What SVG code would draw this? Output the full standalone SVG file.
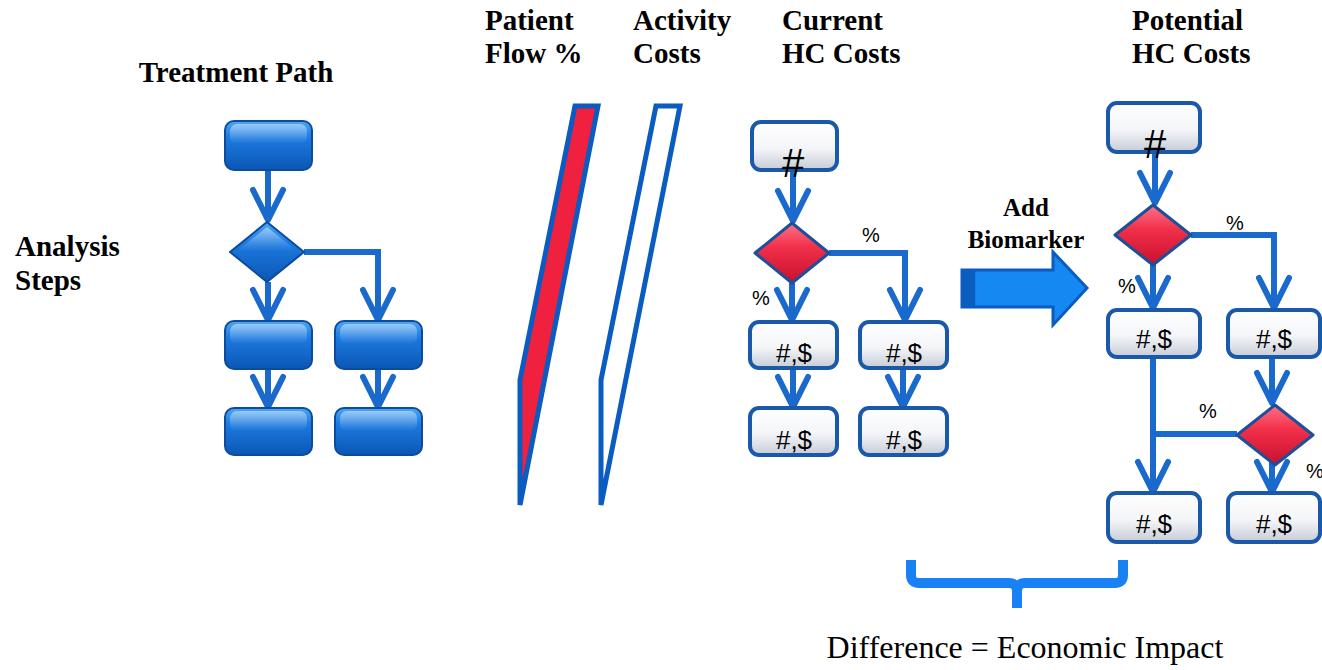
<svg xmlns="http://www.w3.org/2000/svg" width="1322" height="670" viewBox="0 0 1322 670">
  <defs>
    <style>
      .hdr { font-family: "Liberation Serif", "Times New Roman", "DejaVu Serif", serif; font-weight: bold; font-size: 29px; fill: #000; }
      .lbl { font-family: "Liberation Serif", "Times New Roman", "DejaVu Serif", serif; font-weight: bold; font-size: 25px; fill: #000; }
      .note { font-family: "Liberation Serif", "Times New Roman", "DejaVu Serif", serif; font-size: 32px; fill: #000; }
      .val { font-family: "Liberation Sans", Arial, sans-serif; font-size: 26px; fill: #000; text-anchor: middle; }
      .big { font-family: "Liberation Sans", Arial, sans-serif; font-size: 40px; fill: #000; text-anchor: middle; }
      .pct { font-family: "Liberation Sans", Arial, sans-serif; font-size: 20px; fill: #000; }
      .bbox { fill: url(#blueFill); stroke: #0b4c9c; stroke-width: 2; }
      .bshine { fill: url(#shine); }
      .wbox { fill: url(#whiteFill); stroke: #1a58aa; stroke-width: 4; }
      .bdia { fill: url(#blueFill); stroke: #0b4c9c; stroke-width: 2; stroke-linejoin: round; }
      .rdia { fill: url(#redFill); stroke: #1d4f9a; stroke-width: 3; stroke-linejoin: round; }
      .conn { fill: none; stroke: #1a69cc; stroke-width: 6; marker-end: url(#chev); }
      .line { fill: none; stroke: #1a69cc; stroke-width: 6; }
      .bar { stroke: #0a5cc0; stroke-width: 5; stroke-linejoin: miter; }
    </style>
    <linearGradient id="blueFill" x1="0" y1="0" x2="0" y2="1">
      <stop offset="0" stop-color="#4ea6f3"/>
      <stop offset="0.35" stop-color="#1c7ae0"/>
      <stop offset="1" stop-color="#0b56b4"/>
    </linearGradient>
    <linearGradient id="shine" x1="0" y1="0" x2="0" y2="1">
      <stop offset="0" stop-color="#ffffff" stop-opacity="0.45"/>
      <stop offset="1" stop-color="#ffffff" stop-opacity="0"/>
    </linearGradient>
    <linearGradient id="whiteFill" x1="0" y1="0" x2="0" y2="1">
      <stop offset="0" stop-color="#ffffff"/>
      <stop offset="0.55" stop-color="#f4f5f8"/>
      <stop offset="1" stop-color="#c6ccd6"/>
    </linearGradient>
    <linearGradient id="redFill" x1="0" y1="0" x2="0" y2="1">
      <stop offset="0" stop-color="#ff7288"/>
      <stop offset="0.4" stop-color="#f2304a"/>
      <stop offset="1" stop-color="#c8102e"/>
    </linearGradient>
    <linearGradient id="bigArrow" x1="0" y1="0" x2="1" y2="0">
      <stop offset="0" stop-color="#0b5ec0"/>
      <stop offset="0.1" stop-color="#0b5ec0"/>
      <stop offset="0.11" stop-color="#1688f2"/>
      <stop offset="1" stop-color="#1688f2"/>
    </linearGradient>
    <!-- open chevron head for flow connectors -->
    <marker id="chev" markerUnits="userSpaceOnUse" viewBox="-36 -20 40 40" refX="0" refY="0" markerWidth="40" markerHeight="40" orient="auto">
      <path d="M-30,-15 L0,0 L-30,15" fill="none" stroke="#1a69cc" stroke-width="6" stroke-linecap="round" stroke-linejoin="round"/>
    </marker>
  </defs>

  <rect width="1322" height="670" fill="#ffffff"/>

  <!-- headings -->
  <g id="headings">
    <text class="hdr" x="236" y="82" text-anchor="middle">Treatment Path</text>
    <text class="hdr" x="15" y="256">Analysis</text>
    <text class="hdr" x="15" y="290">Steps</text>
    <text class="hdr" x="485" y="30">Patient</text>
    <text class="hdr" x="485" y="63">Flow %</text>
    <text class="hdr" x="633" y="30">Activity</text>
    <text class="hdr" x="633" y="63">Costs</text>
    <text class="hdr" x="782" y="30">Current</text>
    <text class="hdr" x="782" y="63">HC Costs</text>
    <text class="hdr" x="1132" y="30">Potential</text>
    <text class="hdr" x="1132" y="63">HC Costs</text>
  </g>

  <!-- connectors -->
  <g id="connectors">
    <!-- treatment path -->
    <path class="conn" d="M268,170 V220"/>
    <path class="conn" d="M268,282 V320"/>
    <path class="conn" d="M304,252 H378 V320"/>
    <path class="conn" d="M268,369 V407"/>
    <path class="conn" d="M378,369 V407"/>
    <!-- current costs -->
    <path class="conn" d="M793,170 V221"/>
    <path class="conn" d="M792,283 V320"/>
    <path class="conn" d="M829,253 H905 V320"/>
    <path class="conn" d="M793,368 V407"/>
    <path class="conn" d="M903,368 V407"/>
    <!-- potential costs -->
    <path class="conn" d="M1155,152 V203"/>
    <path class="conn" d="M1153,265 V308"/>
    <path class="conn" d="M1191,235 H1274 V308"/>
    <path class="conn" d="M1272,357 V403"/>
    <path class="line" d="M1237,434 H1150"/>
    <path class="conn" d="M1153,357 V492"/>
    <path class="conn" d="M1272,462 V492"/>
  </g>

  <!-- treatment path nodes -->
  <g id="tp-start">
    <rect class="bbox" x="225" y="121" width="87" height="49" rx="9"/>
    <rect class="bshine" x="230" y="124" width="77" height="20" rx="7"/>
  </g>
  <g id="tp-decision">
    <polygon class="bdia" points="267,222 304,252 267,282 230,252"/>
    <polygon class="bshine" points="267,227 297,251 237,251"/>
  </g>
  <g id="tp-step-a1">
    <rect class="bbox" x="225" y="321" width="87" height="48" rx="9"/>
    <rect class="bshine" x="230" y="324" width="77" height="20" rx="7"/>
  </g>
  <g id="tp-step-b1">
    <rect class="bbox" x="335" y="321" width="87" height="48" rx="9"/>
    <rect class="bshine" x="340" y="324" width="77" height="20" rx="7"/>
  </g>
  <g id="tp-step-a2">
    <rect class="bbox" x="225" y="408" width="87" height="47" rx="9"/>
    <rect class="bshine" x="230" y="411" width="77" height="20" rx="7"/>
  </g>
  <g id="tp-step-b2">
    <rect class="bbox" x="335" y="408" width="87" height="47" rx="9"/>
    <rect class="bshine" x="340" y="411" width="77" height="20" rx="7"/>
  </g>

  <!-- patient flow and activity cost bars -->
  <g id="patient-flow">
    <polygon class="bar" fill="#f0203f" points="575,106 598,106 520,505 520,380"/>
  </g>
  <g id="activity-costs">
    <polygon class="bar" fill="#ffffff" points="656,106 680,106 601,505 601,380"/>
  </g>

  <!-- current costs nodes -->
  <g id="cur-start">
    <rect class="wbox" x="752" y="122" width="85" height="48" rx="9"/>
    <text class="big" x="793" y="177">#</text>
  </g>
  <g id="cur-decision">
    <polygon class="rdia" points="792,223 829,253 792,283 755,253"/>
    <text class="pct" x="862" y="242">%</text>
    <text class="pct" x="752" y="305">%</text>
  </g>
  <g id="cur-a1">
    <rect class="wbox" x="750" y="322" width="87" height="46" rx="9"/>
    <text class="val" x="794" y="362">#,$</text>
  </g>
  <g id="cur-b1">
    <rect class="wbox" x="860" y="322" width="87" height="46" rx="9"/>
    <text class="val" x="904" y="362">#,$</text>
  </g>
  <g id="cur-a2">
    <rect class="wbox" x="750" y="408" width="87" height="47" rx="9"/>
    <text class="val" x="794" y="449">#,$</text>
  </g>
  <g id="cur-b2">
    <rect class="wbox" x="860" y="408" width="87" height="47" rx="9"/>
    <text class="val" x="904" y="449">#,$</text>
  </g>

  <!-- add biomarker arrow -->
  <g id="add-biomarker">
    <text class="lbl" x="1026" y="216" text-anchor="middle">Add</text>
    <text class="lbl" x="1026" y="248" text-anchor="middle">Biomarker</text>
    <polygon points="962,270 1053,270 1053,252 1087,288 1053,325 1053,307 962,307" fill="url(#bigArrow)" stroke="#0a5cc0" stroke-width="3" stroke-linejoin="miter"/>
  </g>

  <!-- potential costs nodes -->
  <g id="pot-start">
    <rect class="wbox" x="1108" y="103" width="92" height="49" rx="9"/>
    <text class="big" x="1155" y="158">#</text>
  </g>
  <g id="pot-decision">
    <polygon class="rdia" points="1153,205 1191,235 1153,265 1115,235"/>
    <text class="pct" x="1226" y="230">%</text>
    <text class="pct" x="1118" y="293">%</text>
  </g>
  <g id="pot-a1">
    <rect class="wbox" x="1108" y="310" width="92" height="47" rx="9"/>
    <text class="val" x="1154" y="348">#,$</text>
  </g>
  <g id="pot-b1">
    <rect class="wbox" x="1228" y="310" width="92" height="47" rx="9"/>
    <text class="val" x="1274" y="348">#,$</text>
  </g>
  <g id="pot-decision2">
    <polygon class="rdia" points="1275,405 1313,435 1275,465 1237,435"/>
    <text class="pct" x="1199" y="418">%</text>
    <text class="pct" x="1306" y="478">%</text>
  </g>
  <g id="pot-a2">
    <rect class="wbox" x="1108" y="493" width="92" height="49" rx="9"/>
    <text class="val" x="1154" y="533">#,$</text>
  </g>
  <g id="pot-b2">
    <rect class="wbox" x="1228" y="493" width="92" height="49" rx="9"/>
    <text class="val" x="1274" y="533">#,$</text>
  </g>

  <!-- difference brace -->
  <g id="difference">
    <path d="M911,560 V575 Q911,583 919,583 H1009 Q1017,583 1017,592 V608 M1017,592 Q1017,583 1025,583 H1115 Q1123,583 1123,575 V560" fill="none" stroke="#1882f5" stroke-width="10"/>
    <text class="note" x="1025" y="658" text-anchor="middle">Difference = Economic Impact</text>
  </g>
</svg>
